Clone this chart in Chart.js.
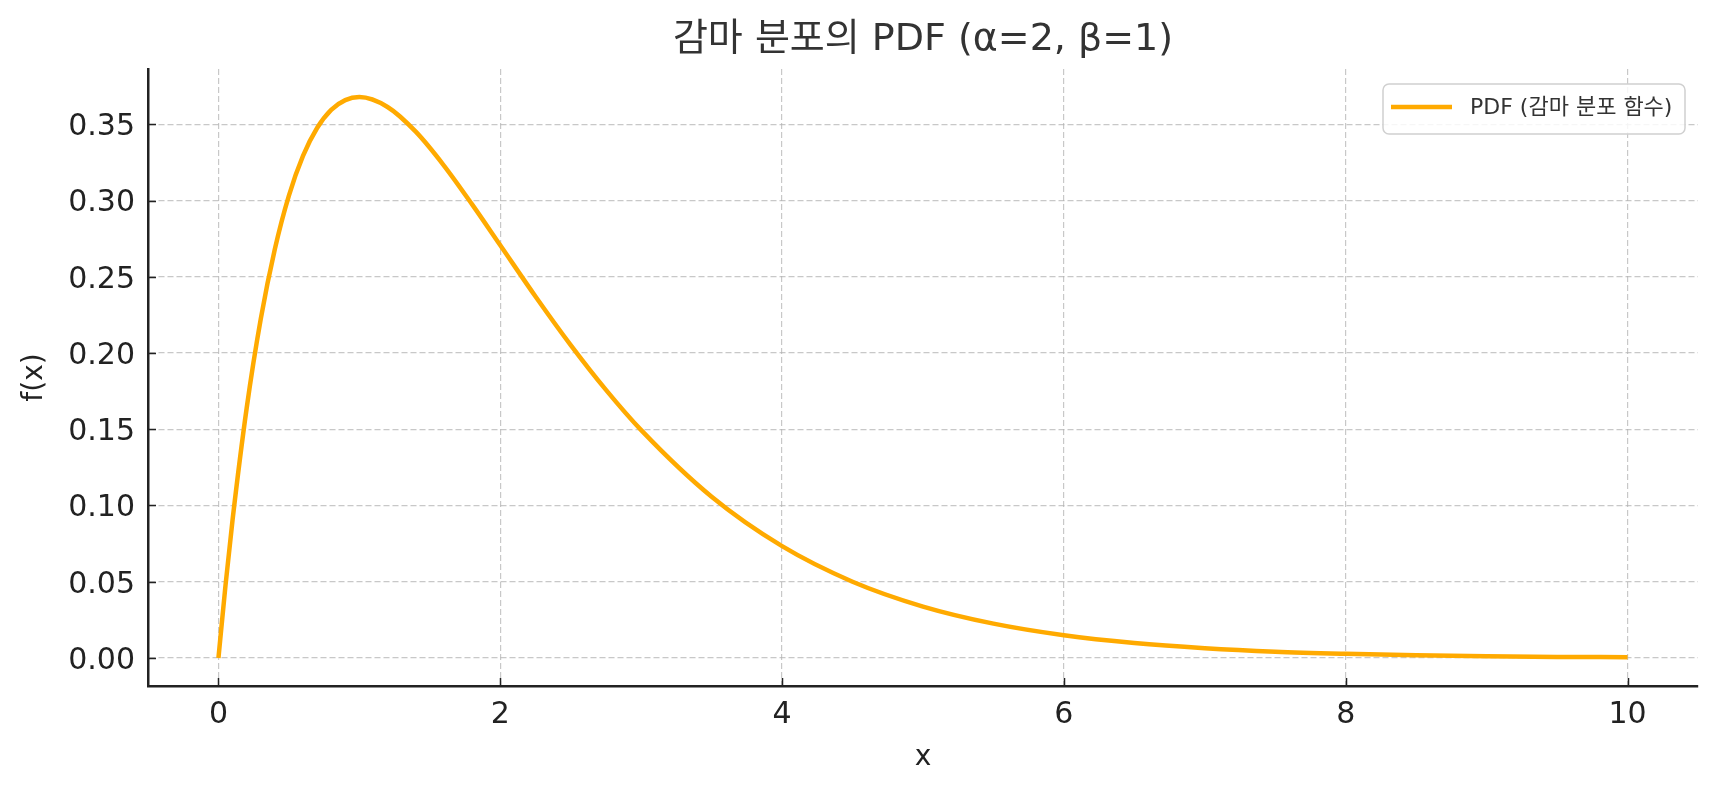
<!DOCTYPE html>
<html>
<head>
<meta charset="utf-8">
<script src="https://cdn.jsdelivr.net/npm/chart.js@4.4.0/dist/chart.umd.min.js"></script>
<style>
  body { margin: 0; background: #fff; }
  #wrap { width: 1718px; height: 793px; }
</style>
</head>
<body>
<div id="wrap"><canvas id="pdf-chart" width="1718" height="793"></canvas></div>
<script>
// Gamma PDF chart (alpha=2, beta=1)

// Data
const xValues = [0, 0.05, 0.1, 0.2, 0.3, 0.4, 0.5, 0.6, 0.7, 0.8, 0.9, 1.0, 1.2, 1.4, 1.6, 1.8, 2.0,
  2.25, 2.5, 2.75, 3.0, 3.5, 4.0, 4.5, 5.0, 5.5, 6.0, 6.5, 7.0, 7.5, 8.0, 8.5, 9.0, 9.5, 10.0];
const pdfValues = [0, 0.0476, 0.0905, 0.1637, 0.2222, 0.2681, 0.3033, 0.3293, 0.3476, 0.3595, 0.3659, 0.3679,
  0.3614, 0.3452, 0.3230, 0.2975, 0.2707, 0.2371, 0.2052, 0.1758, 0.1494, 0.1057, 0.0733, 0.0500,
  0.0337, 0.0225, 0.0149, 0.0098, 0.0064, 0.0041, 0.0027, 0.0017, 0.0011, 0.0007, 0.0005];
const xTicks = [0, 2, 4, 6, 8, 10];
const yTicks = [0, 0.05, 0.10, 0.15, 0.20, 0.25, 0.30, 0.35];

const chartTitle = '감마 분포의 PDF (α=2, β=1)';
const seriesLabel = 'PDF (감마 분포 함수)';
const xLabel = 'x';
const yLabel = 'f(x)';

const lineColor = '#ffaa00';
const gridColor = 'rgba(176, 176, 176, 0.7)';
const axisColor = '#222222';
const fontFamily = '"DejaVu Sans", "Noto Sans CJK KR", sans-serif';

// Title, axis labels, inward tick marks and the in-plot legend
const decorPlugin = {
  id: 'decor',
  afterDraw(chart) {
    const { ctx, chartArea, scales } = chart;
    const cx = (chartArea.left + chartArea.right) / 2;

    // inward ticks like the original
    ctx.save();
    ctx.strokeStyle = axisColor;
    ctx.lineWidth = 1.5;
    ctx.beginPath();
    xTicks.forEach(v => {
      const px = Math.round(scales.x.getPixelForValue(v)) + 0.5;
      ctx.moveTo(px, chartArea.bottom);
      ctx.lineTo(px, chartArea.bottom - 8);
    });
    yTicks.forEach(v => {
      const py = Math.round(scales.y.getPixelForValue(v)) + 0.5;
      ctx.moveTo(chartArea.left, py);
      ctx.lineTo(chartArea.left + 8, py);
    });
    ctx.stroke();
    ctx.restore();

    ctx.save();
    ctx.fillStyle = '#333333';
    ctx.textAlign = 'center';
    ctx.textBaseline = 'middle';
    ctx.font = `38px ${fontFamily}`;
    ctx.fillText(chartTitle, cx, 40);

    ctx.fillStyle = axisColor;
    ctx.font = `28px ${fontFamily}`;
    ctx.fillText(xLabel, cx, 758);
    ctx.translate(35, (chartArea.top + chartArea.bottom) / 2);
    ctx.rotate(-Math.PI / 2);
    ctx.fillText(yLabel, 0, 0);
    ctx.restore();

    // legend box
    ctx.save();
    const bx = 1383, by = 84, bw = 302, bh = 50;
    ctx.beginPath();
    ctx.roundRect(bx, by, bw, bh, 6);
    ctx.fillStyle = 'rgba(255,255,255,0.85)';
    ctx.fill();
    ctx.strokeStyle = '#d0d0d0';
    ctx.lineWidth = 1.5;
    ctx.stroke();
    ctx.beginPath();
    ctx.moveTo(bx + 8, by + 23);
    ctx.lineTo(bx + 69, by + 23);
    ctx.strokeStyle = lineColor;
    ctx.lineWidth = 4.5;
    ctx.stroke();
    ctx.fillStyle = '#333333';
    ctx.font = `22px ${fontFamily}`;
    ctx.textAlign = 'left';
    ctx.textBaseline = 'middle';
    ctx.fillText(seriesLabel, bx + 87, by + 24);
    ctx.restore();
  }
};

const ctx = document.getElementById('pdf-chart').getContext('2d');
new Chart(ctx, {
  type: 'line',
  data: {
    datasets: [{
      label: seriesLabel,
      data: xValues.map((x, i) => ({ x: x, y: pdfValues[i] })),
      borderColor: lineColor,
      borderWidth: 4.5,
      pointRadius: 0,
      cubicInterpolationMode: 'monotone',
      fill: false
    }]
  },
  options: {
    responsive: false,
    animation: false,
    layout: { padding: { top: 69, right: 20, left: 0, bottom: 0 } },
    plugins: {
      legend: { display: false },
      title: { display: false },
      tooltip: { enabled: false }
    },
    scales: {
      x: {
        type: 'linear',
        min: -0.5,
        max: 10.5,
        afterBuildTicks: scale => { scale.ticks = xTicks.map(v => ({ value: v })); },
        afterFit: scale => { scale.height = 107; },
        ticks: {
          color: axisColor,
          font: { family: fontFamily, size: 30 },
          padding: 4,
          maxRotation: 0,
          callback: v => String(v)
        },
        grid: {
          color: gridColor,
          lineWidth: 1.2,
          tickLength: 7,
          tickColor: 'rgba(0,0,0,0)'
        },
        border: { display: true, color: axisColor, width: 2.5, dash: [6, 3] }
      },
      y: {
        type: 'linear',
        min: -0.0184,
        max: 0.3863,
        afterBuildTicks: scale => { scale.ticks = yTicks.map(v => ({ value: v })); },
        afterFit: scale => { scale.width = 148; },
        ticks: {
          color: axisColor,
          font: { family: fontFamily, size: 30 },
          padding: 6,
          labelOffset: 3,
          callback: v => v.toFixed(2)
        },
        grid: {
          color: gridColor,
          lineWidth: 1.2,
          tickLength: 7,
          tickColor: 'rgba(0,0,0,0)'
        },
        border: { display: true, color: axisColor, width: 2.5, dash: [6, 3] }
      }
    }
  },
  plugins: [decorPlugin]
});
</script>
</body>
</html>
